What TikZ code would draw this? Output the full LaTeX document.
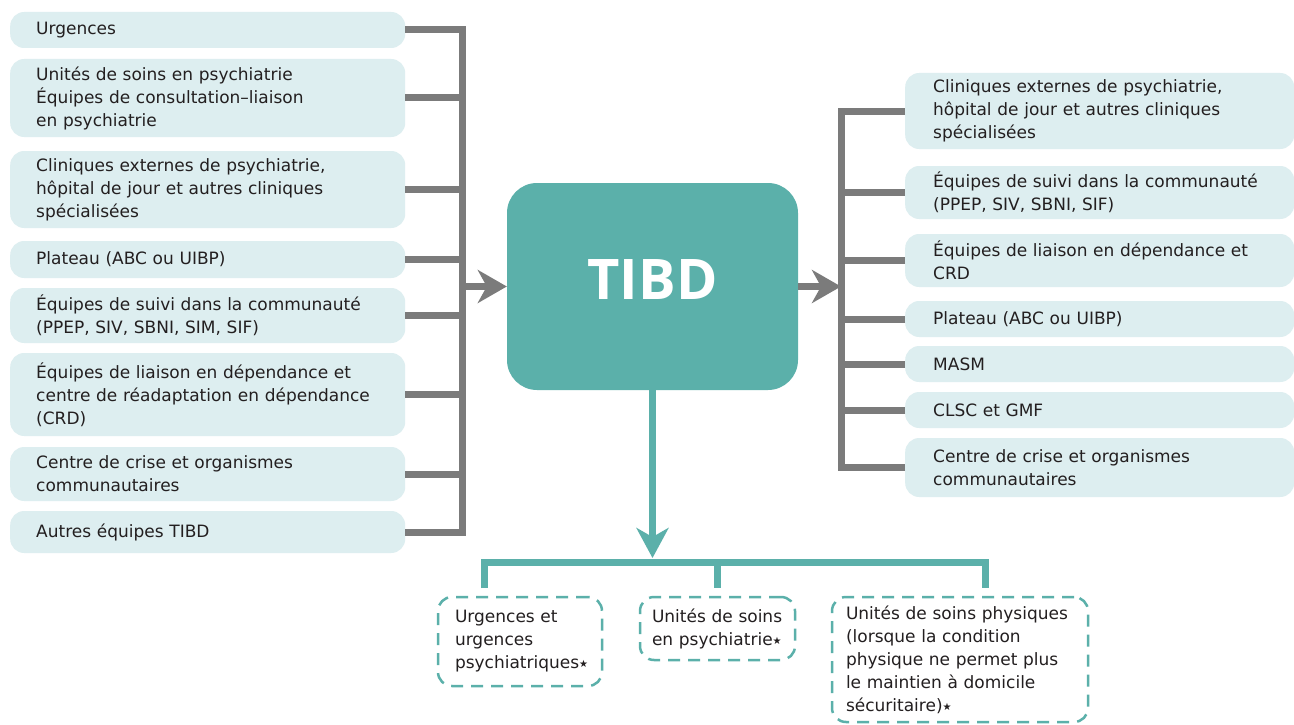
\documentclass[tikz,border=0pt]{standalone}
\usepackage{fontspec}
\setmainfont{DejaVu Sans}
\newfontfamily\titlefont{Open Sans}
\usetikzlibrary{arrows.meta,positioning}
\definecolor{boxfill}{HTML}{DDEEF0}
\definecolor{tealmain}{HTML}{5BB0AA}
\definecolor{linegray}{HTML}{7B7B7B}
\definecolor{inktext}{HTML}{231F20}
\hyphenpenalty=10000
\exhyphenpenalty=10000
\newcommand\starmark{{\fontsize{10pt}{10pt}\selectfont\raisebox{1pt}{★}}}

\begin{document}
\begin{tikzpicture}[x=1pt,y=-1pt,
  every node/.style={text=inktext, font=\fontsize{17pt}{23pt}\selectfont},
  srcbox/.style={fill=boxfill, rounded corners=14pt, anchor=west, align=left, inner xsep=26pt, inner ysep=2pt, text width=343pt},
  dstbox/.style={fill=boxfill, rounded corners=14pt, anchor=west, align=left, inner xsep=28pt, inner ysep=2pt, text width=333pt},
  outbox/.style={draw=tealmain, line width=2.5pt, dash pattern=on 12pt off 8pt, rounded corners=14pt, align=left, inner ysep=2pt},
  grayline/.style={draw=linegray, line width=7pt},
  tealline/.style={draw=tealmain, line width=7pt},
  grayhead/.style={-{Stealth[length=29pt, width=33pt, inset=9pt]}},
  ]
  \useasboundingbox (0,0) rectangle (1294,725);
  \fill[white] (0,0) rectangle (1294,725);
  \clip (0,0) rectangle (1294,725);

  % centre
  \node[fill=tealmain, rounded corners=30pt, minimum width=291pt, minimum height=207pt, text depth=13pt,
        text=white, font=\titlefont\bfseries\fontsize{56pt}{60pt}\selectfont] (tibd) at (652.5,286.5) {TIBD};

  % sources (left)
  \node[srcbox, minimum height=36pt] (s1) at (10,30) {Urgences};
  \node[srcbox, minimum height=78pt] (s2) at (10,98) {Unités de soins en psychiatrie\\Équipes de consultation–liaison\\en psychiatrie};
  \node[srcbox, minimum height=77pt] (s3) at (10,189.5) {Cliniques externes de psychiatrie,\\hôpital de jour et autres cliniques\\spécialisées};
  \node[srcbox, minimum height=37pt] (s4) at (10,259.5) {Plateau (ABC ou UIBP)};
  \node[srcbox, minimum height=55pt] (s5) at (10,315.5) {Équipes de suivi dans la communauté\\(PPEP, SIV, SBNI, SIM, SIF)};
  \node[srcbox, minimum height=83pt] (s6) at (10,394.5) {Équipes de liaison en dépendance et\\centre de réadaptation en dépendance\\(CRD)};
  \node[srcbox, minimum height=54pt] (s7) at (10,474) {Centre de crise et organismes\\communautaires};
  \node[srcbox, minimum height=42pt] (s8) at (10,532) {Autres équipes TIBD};

  % destinations (right)
  \node[dstbox, minimum height=76pt] (d1) at (905,111) {Cliniques externes de psychiatrie,\\hôpital de jour et autres cliniques\\spécialisées};
  \node[dstbox, minimum height=53pt] (d2) at (905,192.5) {Équipes de suivi dans la communauté\\(PPEP, SIV, SBNI, SIF)};
  \node[dstbox, minimum height=53pt] (d3) at (905,260.5) {Équipes de liaison en dépendance et\\CRD};
  \node[dstbox, minimum height=36pt] (d4) at (905,319) {Plateau (ABC ou UIBP)};
  \node[dstbox, minimum height=36pt] (d5) at (905,364) {MASM};
  \node[dstbox, minimum height=36pt] (d6) at (905,410) {CLSC et GMF};
  \node[dstbox, minimum height=59pt] (d7) at (905,467.5) {Centre de crise et organismes\\communautaires};

  % hospitalisation (bottom)
  \node[outbox, inner xsep=17pt, text width=130pt, minimum height=89pt] (b1) at (520,641.5) {Urgences et\\urgences\\psychiatriques\starmark};
  \node[outbox, inner xsep=12pt, text width=131pt, minimum height=63pt] (b2) at (717.5,628.5) {Unités de soins\\en psychiatrie\starmark};
  \node[outbox, inner xsep=14pt, text width=228pt, minimum height=125pt] (b3) at (960,659.5) {Unités de soins physiques\\(lorsque la condition\\physique ne permet plus\\le maintien à domicile\\sécuritaire)\starmark};

  % gray brackets
  \coordinate (lbar) at (462,0);
  \coordinate (rbar) at (841,0);
  \foreach \i in {1,...,8}
    \draw[grayline] (s\i.east) -- (s\i.east -| lbar);
  \draw[grayline, line cap=rect] (s1.east -| lbar) -- (s8.east -| lbar);
  \draw[grayline, grayhead] (lbar |- tibd.west) -- (tibd.west);

  \foreach \i in {1,...,7}
    \draw[grayline] (d\i.west) -- (d\i.west -| rbar);
  \draw[grayline, line cap=rect] (d1.west -| rbar) -- (d7.west -| rbar);
  \draw[grayline, grayhead] (tibd.east) -- (rbar |- tibd.east);

  % teal bracket
  \coordinate (bbar) at (0,562);
  \coordinate (f1) at (484,588);
  \coordinate (f2) at (717,588);
  \coordinate (f3) at (985,588);
  \draw[tealline, -{Stealth[length=30pt, width=32pt, inset=9pt]}, shorten >=4pt] (tibd.south) -- (tibd.south |- bbar);
  \draw[tealline] (f1) -- (f1 |- bbar) -- (f3 |- bbar) -- (f3);
  \draw[tealline] (f2 |- bbar) -- (f2);
\end{tikzpicture}
\end{document}
